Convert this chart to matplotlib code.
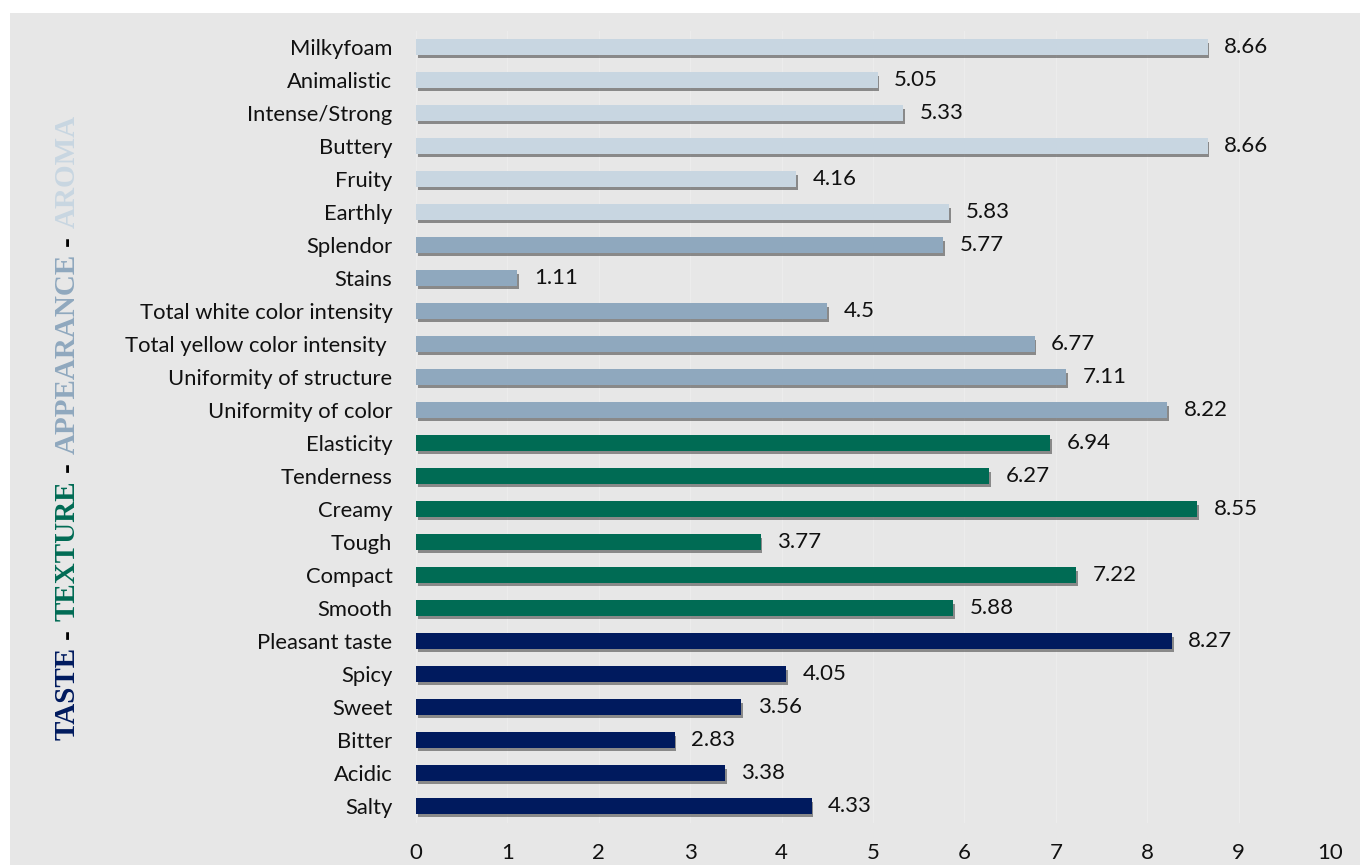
import matplotlib
matplotlib.use("Agg")
import matplotlib.pyplot as plt
import matplotlib.patheffects as pe
from matplotlib.patches import Rectangle

# data, listed bottom to top
categories = ["Salty", "Acidic", "Bitter", "Sweet", "Spicy", "Pleasant taste",
              "Smooth", "Compact", "Tough", "Creamy", "Tenderness", "Elasticity",
              "Uniformity of color", "Uniformity of structure",
              "Total yellow color intensity ", "Total white color intensity",
              "Stains", "Splendor",
              "Earthly", "Fruity", "Buttery", "Intense/Strong", "Animalistic", "Milkyfoam"]
values = [4.33, 3.38, 2.83, 3.56, 4.05, 8.27,
          5.88, 7.22, 3.77, 8.55, 6.27, 6.94,
          8.22, 7.11, 6.77, 4.5, 1.11, 5.77,
          5.83, 4.16, 8.66, 5.33, 5.05, 8.66]
groups = ["TASTE"] * 6 + ["TEXTURE"] * 6 + ["APPEARANCE"] * 6 + ["AROMA"] * 6
x_ticks = list(range(0, 11))

group_colors = {"TASTE": "#001a5e", "TEXTURE": "#006b54",
                "APPEARANCE": "#8fa8be", "AROMA": "#c8d6e1"}
bg = "#e7e7e7"
sans = ["Lato", "DejaVu Sans"]

fig = plt.figure(figsize=(13.6, 8.65), dpi=100)
fig.patch.set_facecolor("white")
fig.patches.append(Rectangle((10 / 1360, 0), 1, 1 - 13 / 865, transform=fig.transFigure,
                             facecolor=bg, edgecolor="none", zorder=-5))

ax = fig.add_axes([416 / 1360, 1 - 822.5 / 865, (1330 - 416) / 1360, (822.5 - 30.5) / 865])
ax.set_facecolor("none")

colors = [group_colors[g] for g in groups]
pos = list(range(len(categories)))
bars = ax.barh(pos, values, height=0.46, color=colors, zorder=3)
for b in bars:
    b.set_path_effects([pe.SimplePatchShadow(offset=(1.2, -2.5), shadow_rgbFace="#4a4a4a", alpha=0.6),
                        pe.Normal()])

for p, v in zip(pos, values):
    ax.text(v + 0.18, p, f"{v:g}", va="center", ha="left", fontsize=16,
            family=sans, color="#111111")

ax.set_xlim(0, 10)
ax.set_ylim(-0.5, len(categories) - 0.5)
ax.set_xticks(x_ticks)
ax.set_yticks(pos)
ax.set_yticklabels(categories, family=sans, fontsize=15.8, color="#111111")
for lab in ax.get_xticklabels():
    lab.set_family(sans)
    lab.set_fontsize(16)
    lab.set_color("#111111")
ax.tick_params(axis="both", length=0)
ax.tick_params(axis="y", pad=17)
ax.tick_params(axis="x", pad=15)
for s in ax.spines.values():
    s.set_visible(False)
ax.grid(axis="x", color="#ececec", linewidth=0.8, zorder=0)
ax.set_axisbelow(True)

# multi-coloured vertical axis title
pieces = [("TASTE", group_colors["TASTE"]), ("-", "black"),
          ("TEXTURE", group_colors["TEXTURE"]), ("-", "black"),
          ("APPEARANCE", group_colors["APPEARANCE"]), ("-", "black"),
          ("AROMA", group_colors["AROMA"])]
fig.canvas.draw()
renderer = fig.canvas.get_renderer()
y_px = 865 - 740
x_fig = 67 / 1360
for word, col in pieces:
    t = fig.text(x_fig, y_px / 865, word, rotation=90, ha="center", va="bottom",
                 fontsize=21, fontweight="bold", family="Liberation Serif", color=col)
    h = t.get_window_extent(renderer).height
    y_px += h + 8

fig.savefig("out.png", dpi=100, facecolor="white")
